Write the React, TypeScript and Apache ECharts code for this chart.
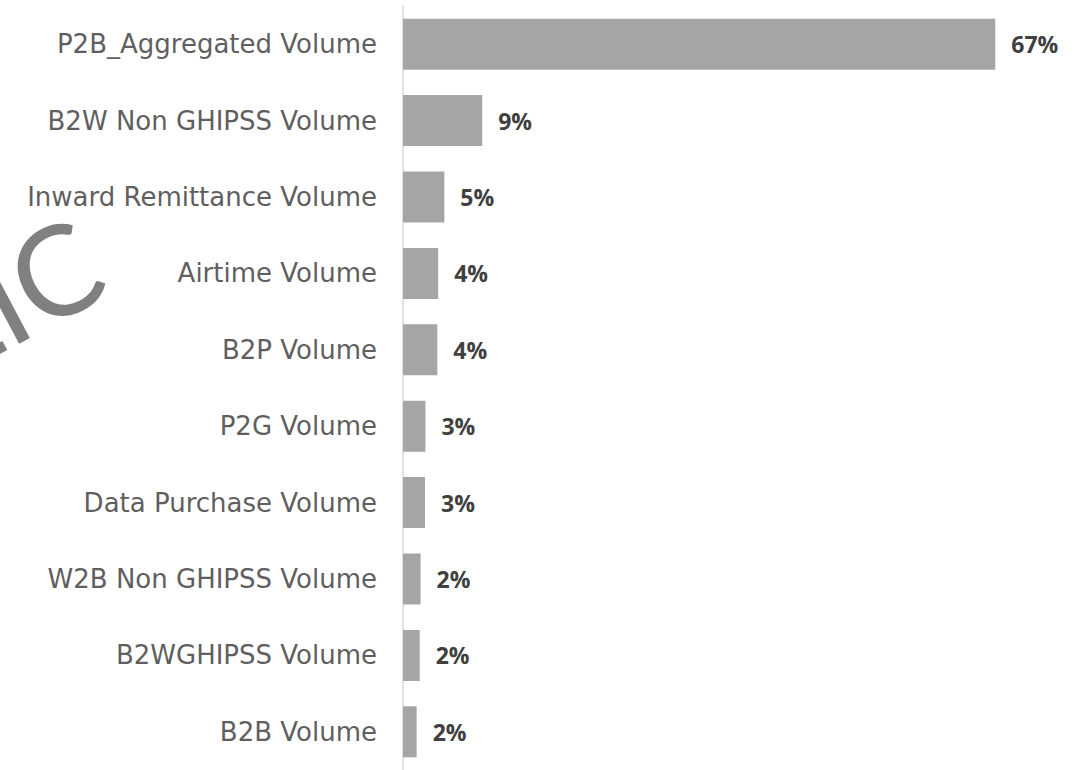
import React, { useEffect, useRef } from "react";
import * as echarts from "echarts";

const categories = [
  "P2B_Aggregated Volume",
  "B2W Non GHIPSS Volume",
  "Inward Remittance Volume",
  "Airtime Volume",
  "B2P Volume",
  "P2G Volume",
  "Data Purchase Volume",
  "W2B Non GHIPSS Volume",
  "B2WGHIPSS Volume",
  "B2B Volume",
];
// share of volume, in percent
const shares = [67.3, 9.0, 4.7, 4.0, 3.9, 2.55, 2.5, 2.0, 1.9, 1.55];
const watermarkText = "PUBLIC";

export default function App() {
  const ref = useRef<HTMLDivElement>(null);
  useEffect(() => {
    if (!ref.current) return;
    const chart = echarts.init(ref.current, null, { renderer: "svg" });
    chart.setOption({
      animation: false,
      backgroundColor: "#ffffff",
      grid: { left: 403, top: 6, width: 616, height: 771, containLabel: false },
      xAxis: {
        type: "value",
        min: 0,
        max: 70,
        show: false,
      },
      yAxis: {
        type: "category",
        data: categories,
        inverse: true,
        axisLine: { show: true, lineStyle: { color: "#d9d9d9", width: 1.5 } },
        axisTick: { show: false },
        splitLine: { show: false },
        axisLabel: {
          color: "#5f5f5f",
          fontSize: 26,
          fontFamily: "DejaVu Sans",
          margin: 26,
        },
      },
      series: [
        {
          type: "bar",
          data: shares,
          barWidth: 51,
          itemStyle: { color: "#a5a5a5" },
          label: {
            show: true,
            position: "right",
            distance: 16,
            color: "#404040",
            fontSize: 23,
            fontWeight: "bold",
            fontFamily: "Open Sans",
            formatter: (p: any) => Math.round(p.value) + "%",
          },
        },
      ],
      graphic: [
        {
          type: "text",
          x: 91,
          y: 251,
          rotation: 0.489,
          silent: true,
          style: {
            text: watermarkText,
            fontSize: 125,
            fontFamily: "Lato",
            fontWeight: "normal",
            fill: "#808080",
            textAlign: "right",
            textVerticalAlign: "middle",
          },
        },
      ],
    });
    return () => chart.dispose();
  }, []);
  return (
    <div
      ref={ref}
      style={{ position: "absolute", left: 0, top: 0, width: 1086, height: 770 }}
    />
  );
}
